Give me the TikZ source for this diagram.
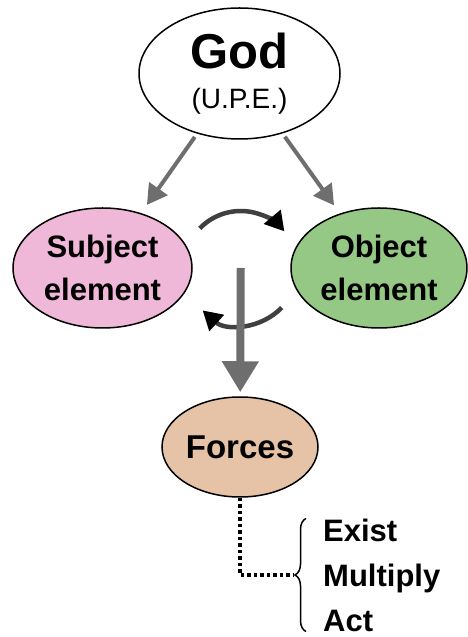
\documentclass[tikz,border=0pt]{standalone}
\usepackage{fontspec}
\setmainfont{Liberation Sans}
\usetikzlibrary{positioning, calc, shapes.geometric, arrows.meta, decorations.pathreplacing}
\definecolor{subjpink}{HTML}{F0B8D8}
\definecolor{objgreen}{HTML}{94C884}
\definecolor{forcetan}{HTML}{E6C2A6}
\definecolor{arrowgray}{HTML}{6E6E6E}
\definecolor{cyclegray}{HTML}{404040}

\begin{document}
\begin{tikzpicture}[
      x=1pt,y=1pt,
      >={Triangle[length=20pt,width=22pt]},
      main node/.style={ellipse,draw,line width=1.5pt,inner sep=0pt,align=center,
        font=\bfseries\fontsize{31}{43}\selectfont},
      gray arrow/.style={->,draw=arrowgray,line width=4pt,shorten <=4pt,shorten >=10pt},
      cycle arrow/.style={-{Triangle[length=19pt,width=21pt,color=black]},draw=cyclegray,line width=4.5pt},
      dotted link/.style={line width=3.5pt,dash pattern=on 3.5pt off 3pt}
    ]
    \useasboundingbox (0,0) rectangle (468,637);
    \node[main node,minimum width=201pt,minimum height=131pt,
      font=\bfseries\fontsize{49}{40}\selectfont] (G) at (239.5,563.5)
      {God\\{\mdseries\fontsize{28}{28}\selectfont (U.P.E.)}};
    \node[main node,fill=subjpink,minimum width=179pt,minimum height=120pt] (S) at (102.5,369) {Subject\\element};
    \node[main node,fill=objgreen,minimum width=176pt,minimum height=120pt] (O) at (379,369) {Object\\element};
    \node[main node,fill=forcetan,minimum width=156pt,minimum height=100pt,
      font=\bfseries\fontsize{33}{40}\selectfont] (F) at (240,190) {Forces};
    \node[anchor=west,align=left,inner sep=0pt,
      font=\bfseries\fontsize{31}{45}\selectfont] (A) at (323,62) {Exist\\Multiply\\Act};
    \coordinate (M) at ($(S)!0.5!(O)$);
    \coordinate (T) at ([xshift=-30pt]A.west);

    % turning arrows
    \draw[cycle arrow] ([shift={(136:57pt)}]M) arc[start angle=136,end angle=40,radius=57pt];
    \draw[cycle arrow] ([shift={(-44:57pt)}]M) arc[start angle=-44,end angle=-132,radius=57pt];

    \draw[gray arrow] (G) -- (S);
    \draw[gray arrow] (G) -- (O);
    \draw[-{Triangle[length=31pt,width=35pt]},draw=arrowgray,line width=8pt,shorten >=4pt] (M) -- (F);

    \draw[dotted link] (F.south) |- (T);
    \draw[decorate,decoration={brace,amplitude=11pt},line width=1.5pt]
      ([xshift=-17pt]A.south west) -- ([xshift=-17pt]A.north west);
  \end{tikzpicture}
\end{document}
